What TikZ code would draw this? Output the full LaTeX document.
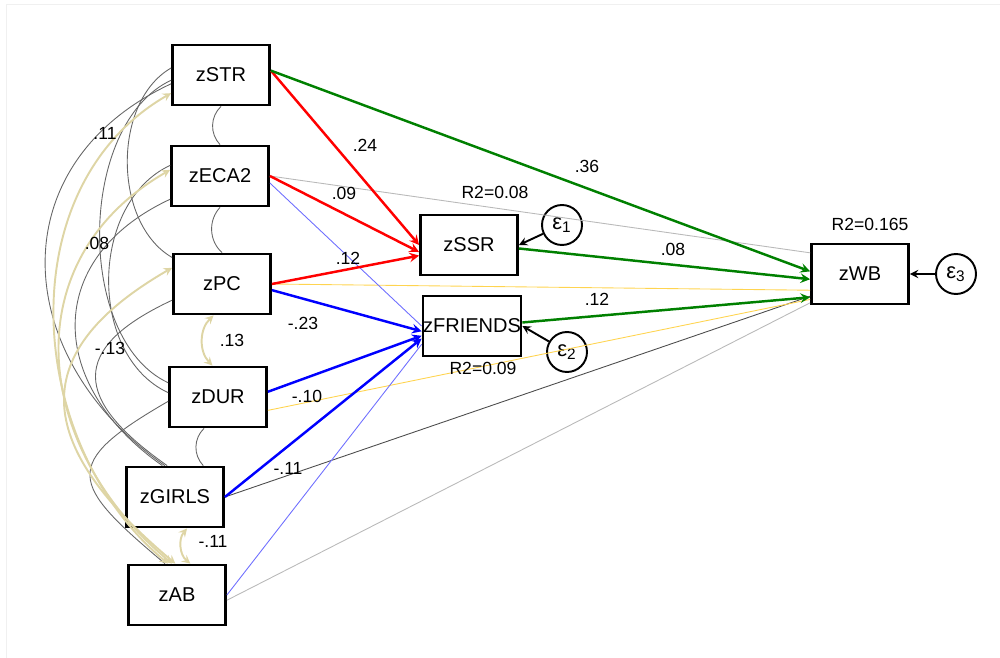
\documentclass[tikz,border=0pt]{standalone}
\usepackage{fontspec}
\setmainfont{Liberation Sans}
\usetikzlibrary{arrows,positioning}

\definecolor{pathgreen}{RGB}{0,128,0}
\definecolor{covtan}{RGB}{222,213,165}
\definecolor{weakyellow}{RGB}{255,212,80}
\definecolor{weakblue}{RGB}{110,110,255}

\begin{document}
\begin{tikzpicture}[x=0.02cm,y=-0.02cm,>=stealth,
    var/.style={draw,line width=1.6pt,minimum width=1.94cm,minimum height=1.2cm,inner sep=0pt,font=\fontsize{11.4}{13}\selectfont},
    err/.style={draw,circle,line width=1.1pt,minimum size=0.8cm,inner sep=0pt,font=\fontsize{12.5}{14}\selectfont},
    num/.style={font=\fontsize{10}{12}\selectfont,inner sep=0pt},
    sig/.style={->,line width=1.4pt},
    weak/.style={line width=0.5pt},
    cov/.style={line width=0.5pt,black!60},
    covs/.style={<->,line width=1.1pt,covtan}]
        \useasboundingbox (0,0) rectangle (1000,658);
        \draw[gray!12] (6,658) -- (6,4) -- (1000,4);

        % exogenous
        \node[var] (zSTR)     at (221,75)  {zSTR};
        \node[var] (zECA2)    at (220,176) {zECA2};
        \node[var] (zPC)      at (222,284) {zPC};
        \node[var] (zDUR)     at (218,397) {zDUR};
        \node[var] (zGIRLS)   at (175,497) {zGIRLS};
        \node[var] (zAB)      at (177,595) {zAB};
        % endogenous
        \node[var] (zSSR)     at (469,245) {zSSR};
        \node[var] (zFRIENDS) at (472,326) {zFRIENDS};
        \node[var] (zWB)      at (860,274) {zWB};
        \node[err] (e1) at (562,225) {ε\textsubscript{1}};
        \node[err] (e2) at (567,352) {ε\textsubscript{2}};
        \node[err] (e3) at (956,274) {ε\textsubscript{3}};

        % weak paths
        \path[weak]
             (zECA2.east) edge [gray!55] (zWB.157)
             (zGIRLS.east) edge [black!70] (zWB.204)
             (zAB.354) edge [gray!55] (zWB.210)
             (zPC.east) edge [weakyellow] (zWB.198)
             (zDUR.345) edge [weakyellow] (zWB.207)
             (zECA2.352) edge [weakblue] (zFRIENDS.180)
             (zAB.east) edge [weakblue] (zFRIENDS.200)
        ;

        % paths
        \path[sig,red]
             (zSTR.5) edge (zSSR.west)
             (zECA2.east) edge (zSSR.188)
             (zPC.east) edge (zSSR.192)
        ;
        \path[sig,blue]
             (zPC.353) edge (zFRIENDS.186)
             (zDUR.6) edge (zFRIENDS.191)
             (zGIRLS.east) edge (zFRIENDS.194)
        ;
        \path[sig,pathgreen]
             (zSTR.5) edge (zWB.177)
             (zSSR.356) edge (zWB.186)
             (zFRIENDS.4) edge (zWB.205)
        ;
        \path[->,line width=1.1pt]
             (e1) edge (zSSR.east)
             (e2) edge (zFRIENDS.east)
             (e3) edge (zWB.east)
        ;

        % covariances
        \path[cov]
             (zSTR.south) edge [bend right=45] (zECA2.north)
             (zECA2.south) edge [bend right=45] (zPC.north)
             (zDUR.246) edge [bend right=45] (zGIRLS.48)
             (zSTR.172) edge [out=210,in=150,looseness=0.92] (zPC.152)
             (zSTR.186) edge [out=205,in=155,looseness=0.87] (zDUR.164)
             (zSTR.190) edge [out=205,in=145,looseness=1.27] (zGIRLS.108)
             (zECA2.168) edge [out=205,in=155] (zDUR.175)
             (zECA2.205) edge [out=205,in=145,looseness=1.35] (zGIRLS.112)
             (zPC.198) edge [out=205,in=145,looseness=1.77] (zGIRLS.104)
             (zDUR.185) edge [out=210,in=140,looseness=1.97] (zAB.111)
        ;
        \path[covs]
             (zPC.255) edge [bend right=45] (zDUR.100)
             (zGIRLS.291) edge [bend right=45] (zAB.67)
             (zSTR.200) edge [out=210,in=140,looseness=1.02] (zAB.106)
             (zECA2.173) edge [out=210,in=140,looseness=1.18] (zAB.99)
             (zPC.162) edge [out=210,in=140,looseness=1.53] (zAB.93)
        ;

        % estimates
        \node[num] at (365,145) {.24};
        \node[num] at (587,166) {.36};
        \node[num] at (344,193) {.09};
        \node[num] at (348,258) {.12};
        \node[num] at (673,249) {.08};
        \node[num] at (597,299) {.12};
        \node[num] at (303,323) {-.23};
        \node[num] at (232,340) {.13};
        \node[num] at (307,396) {-.10};
        \node[num] at (288,468) {-.11};
        \node[num] at (213,541) {-.11};
        \node[num] at (105,133) {.11};
        \node[num] at (97,243)  {.08};
        \node[num] at (110,348) {-.13};
        \node[num] at (495,192) {R2=0.08};
        \node[num] at (483,368) {R2=0.09};
        \node[num] at (870,224) {R2=0.165};
\end{tikzpicture}
\end{document}
